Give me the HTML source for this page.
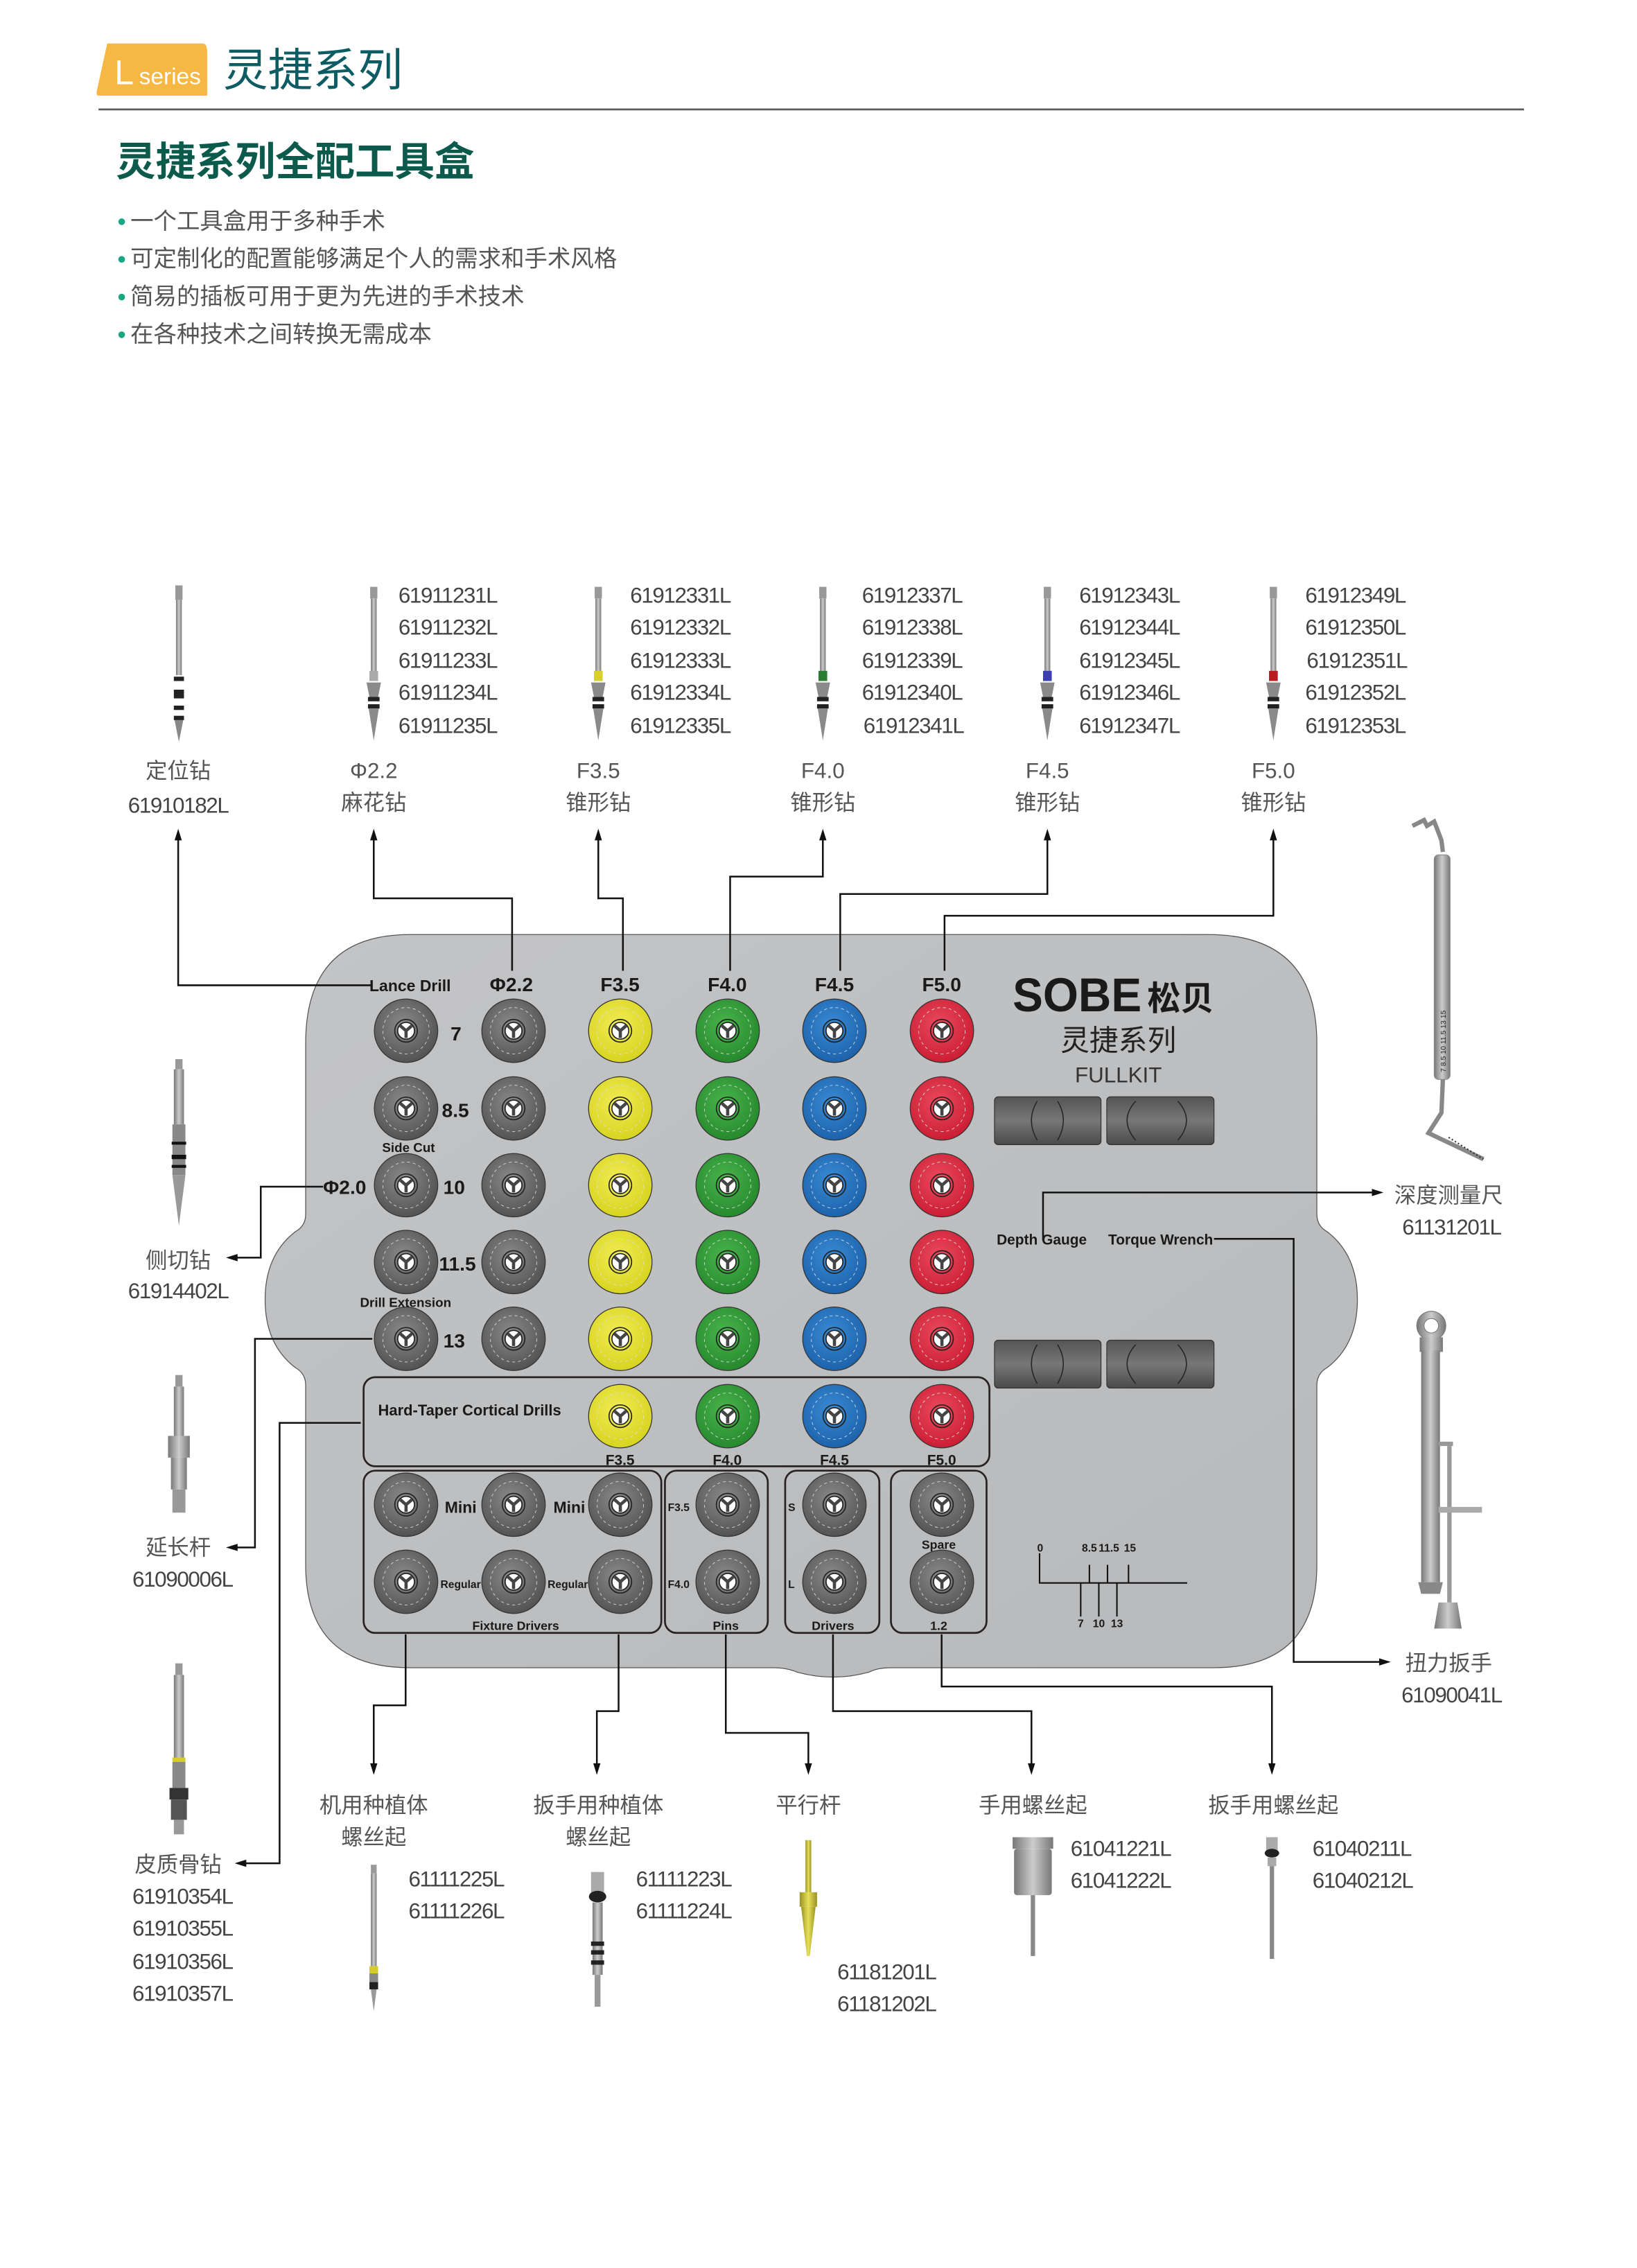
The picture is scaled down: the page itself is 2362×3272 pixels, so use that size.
<!DOCTYPE html>
<html><head><meta charset="utf-8"><style>
html,body{margin:0;padding:0;background:#fff}
svg{display:block}
.cn{font-family:"Liberation Sans","Noto Sans CJK SC",sans-serif}
.code{font-family:"Liberation Sans Narrow","Liberation Sans",sans-serif;font-size:15px;fill:#444;letter-spacing:-0.65px}
.lab{font-family:"Liberation Sans","Noto Sans CJK SC",sans-serif;font-size:15px;fill:#555}
.b{font-family:"Liberation Sans","Noto Sans CJK SC",sans-serif;font-weight:bold;fill:#1a1a1a}
.ln{fill:none;stroke:#111;stroke-width:1.2}
</style></head><body>
<svg width="2362" height="3272" viewBox="0 0 1130 1565.3" xmlns="http://www.w3.org/2000/svg">
<defs>
<radialGradient id="gg" cx="0.45" cy="0.4" r="0.65"><stop offset="0" stop-color="#8a8a8a"/><stop offset="1" stop-color="#4e4e4e"/></radialGradient>
<radialGradient id="gy" cx="0.45" cy="0.4" r="0.65"><stop offset="0" stop-color="#f0ec55"/><stop offset="1" stop-color="#d6d21c"/></radialGradient>
<radialGradient id="gn" cx="0.45" cy="0.4" r="0.65"><stop offset="0" stop-color="#4ab44c"/><stop offset="1" stop-color="#23862b"/></radialGradient>
<radialGradient id="gb" cx="0.45" cy="0.4" r="0.65"><stop offset="0" stop-color="#3a8ad4"/><stop offset="1" stop-color="#1a5fa8"/></radialGradient>
<radialGradient id="gr" cx="0.45" cy="0.4" r="0.65"><stop offset="0" stop-color="#ea4a5c"/><stop offset="1" stop-color="#c81a30"/></radialGradient>
<linearGradient id="bd" x1="0" y1="0" x2="1" y2="1"><stop offset="0" stop-color="#c3c4c6"/><stop offset="1" stop-color="#b7b9bb"/></linearGradient>
<linearGradient id="blk" x1="0" y1="0" x2="0" y2="1"><stop offset="0" stop-color="#555"/><stop offset="0.5" stop-color="#777"/><stop offset="1" stop-color="#4a4a4a"/></linearGradient>
<linearGradient id="met" x1="0" y1="0" x2="1" y2="0"><stop offset="0" stop-color="#777"/><stop offset="0.5" stop-color="#ccc"/><stop offset="1" stop-color="#777"/></linearGradient>
<linearGradient id="gold" x1="0" y1="0" x2="1" y2="0"><stop offset="0" stop-color="#9a9420"/><stop offset="0.5" stop-color="#e6df5a"/><stop offset="1" stop-color="#9a9420"/></linearGradient>
<g id="ctr"><circle r="16" fill="none" stroke="#ddd" stroke-width="0.4" stroke-dasharray="2 2"/><circle r="7.8" fill="none" stroke="#222" stroke-width="0.8"/><circle r="5.8" fill="#fff" stroke="#222" stroke-width="0.8"/><path d="M0,0 L-4,-3.5 M0,0 L4,-3.5 M0,0 L0,5" stroke="#444" stroke-width="2.2"/></g>
<g id="hg"><circle r="21.9" fill="url(#gg)" stroke="#333" stroke-width="0.6"/><use href="#ctr"/></g>
<g id="hy"><circle r="21.9" fill="url(#gy)" stroke="#333" stroke-width="0.6"/><use href="#ctr"/></g>
<g id="hn"><circle r="21.9" fill="url(#gn)" stroke="#333" stroke-width="0.6"/><use href="#ctr"/></g>
<g id="hb"><circle r="21.9" fill="url(#gb)" stroke="#333" stroke-width="0.6"/><use href="#ctr"/></g>
<g id="hr"><circle r="21.9" fill="url(#gr)" stroke="#333" stroke-width="0.6"/><use href="#ctr"/></g>
<g id="drill"><rect x="-2.5" y="0" width="5" height="8" fill="#999"/><rect x="-2" y="8" width="4" height="52" fill="url(#met)"/><rect x="-3" y="58" width="6" height="7" fill="#aaa"/><polygon points="-5,66 5,66 3,76 -3,76" fill="#8a8a8a"/><rect x="-4" y="76" width="8" height="3" fill="#222"/><rect x="-4" y="81" width="8" height="3" fill="#222"/><polygon points="-3.5,84 3.5,84 0,106" fill="#8a8a8a"/></g>
</defs>

<!-- header -->
<path d="M74,30 H140 Q143,30 143,36 V66 H68 Q66,66 67,62 Z" fill="#f6b843"/>
<text x="79" y="58" font-family="Liberation Sans Narrow,Liberation Sans,sans-serif" font-size="24" fill="#fff">L</text>
<text x="96" y="58" font-family="Liberation Sans Narrow,Liberation Sans,sans-serif" font-size="16" fill="#fff">series</text>
<text x="154" y="59" class="cn" font-size="31" fill="#0d5c63">灵捷系列</text>
<line x1="68" y1="75.5" x2="1052" y2="75.5" stroke="#5c5c5c" stroke-width="1.3"/>
<text x="80" y="121" class="cn" font-size="27.5" font-weight="bold" fill="#0b5a4c">灵捷系列全配工具盒</text>
<g class="cn" font-size="16" fill="#555">
<circle cx="84" cy="153" r="2.3" fill="#15a882"/><text x="90" y="158">一个工具盒用于多种手术</text>
<circle cx="84" cy="179" r="2.3" fill="#15a882"/><text x="90" y="184">可定制化的配置能够满足个人的需求和手术风格</text>
<circle cx="84" cy="205" r="2.3" fill="#15a882"/><text x="90" y="210">简易的插板可用于更为先进的手术技术</text>
<circle cx="84" cy="231" r="2.3" fill="#15a882"/><text x="90" y="236">在各种技术之间转换无需成本</text>
</g>

<!-- top drills -->
<g>
<rect x="121" y="404" width="5" height="10" fill="#999"/><rect x="121.5" y="414" width="4" height="52" fill="url(#met)"/>
<rect x="120" y="467" width="7" height="3" fill="#222"/><rect x="120" y="476" width="7" height="6" fill="#222"/><rect x="120" y="487" width="7" height="3" fill="#222"/><rect x="120" y="494" width="7" height="3" fill="#222"/><polygon points="120.5,497 126.5,497 123.5,512" fill="#888"/>
<use href="#drill" x="258" y="405"/>
<use href="#drill" x="413" y="405"/><rect x="410" y="463" width="6" height="7" fill="#d9cf2c"/>
<use href="#drill" x="568" y="405"/><rect x="565" y="463" width="6" height="7" fill="#2a7d30"/>
<use href="#drill" x="723" y="405"/><rect x="720" y="463" width="6" height="7" fill="#3c3fb0"/>
<use href="#drill" x="879" y="405"/><rect x="876" y="463" width="6" height="7" fill="#b81c22"/>
</g>
<g class="code">
<text x="275" y="416">61911231L</text><text x="275" y="438">61911232L</text><text x="275" y="461">61911233L</text><text x="275" y="483">61911234L</text><text x="275" y="506">61911235L</text>
<text x="435" y="416">61912331L</text><text x="435" y="438">61912332L</text><text x="435" y="461">61912333L</text><text x="435" y="483">61912334L</text><text x="435" y="506">61912335L</text>
<text x="595" y="416">61912337L</text><text x="595" y="438">61912338L</text><text x="595" y="461">61912339L</text><text x="595" y="483">61912340L</text><text x="596" y="506">61912341L</text>
<text x="745" y="416">61912343L</text><text x="745" y="438">61912344L</text><text x="745" y="461">61912345L</text><text x="745" y="483">61912346L</text><text x="745" y="506">61912347L</text>
<text x="901" y="416">61912349L</text><text x="901" y="438">61912350L</text><text x="902" y="461">61912351L</text><text x="901" y="483">61912352L</text><text x="901" y="506">61912353L</text>
</g>
<g class="lab" text-anchor="middle">
<text x="123" y="537">定位钻</text><text x="123" y="561" class="code">61910182L</text>
<text x="258" y="537">Φ2.2</text><text x="258" y="559">麻花钻</text>
<text x="413" y="537">F3.5</text><text x="413" y="559">锥形钻</text>
<text x="568" y="537">F4.0</text><text x="568" y="559">锥形钻</text>
<text x="723" y="537">F4.5</text><text x="723" y="559">锥形钻</text>
<text x="879" y="537">F5.0</text><text x="879" y="559">锥形钻</text>
</g>

<!-- board -->
<path d="M283,645 H834 Q909,645 909,720 V838 Q909,846 916,850 Q937,866 937,897 Q937,928 916,944 Q909,948 909,956 V1080 Q909,1151 838,1151 H615 Q606,1151 600,1154 Q575,1161 550,1154 Q543,1151 534,1151 H283 Q211,1151 211,1080 V956 Q211,948 204,944 Q183,928 183,897 Q183,866 204,850 Q211,846 211,838 V720 Q211,645 283,645 Z" fill="url(#bd)" stroke="#555" stroke-width="0.6"/>

<!-- connectors -->
<g class="ln">
<path d="M123,577 V680 H256"/>
<path d="M258,577 V620 H353.5 V670"/>
<path d="M413,577 V620 H430 V670"/>
<path d="M568,577 V605 H504 V670"/>
<path d="M723,577 V617 H580 V670"/>
<path d="M879,577 V632 H652 V670"/>
<path d="M223,819 H180 V868 H162"/>
<path d="M257,924 H176 V1068 H162"/>
<path d="M249,982 H193 V1286 H168"/>
<path d="M720,856 V823 H950"/>
<path d="M838,855 H893 V1147 H955"/>
<path d="M280,1128 V1177 H258 V1220"/>
<path d="M427,1128 V1181 H412 V1220"/>
<path d="M501,1128 V1196 H558 V1220"/>
<path d="M575,1128 V1181 H712 V1220"/>
<path d="M650,1128 V1164 H878 V1220"/>
</g>
<g fill="#111">
<polygon points="123,572 120.5,580 125.5,580"/><polygon points="258,572 255.5,580 260.5,580"/><polygon points="413,572 410.5,580 415.5,580"/><polygon points="568,572 565.5,580 570.5,580"/><polygon points="723,572 720.5,580 725.5,580"/><polygon points="879,572 876.5,580 881.5,580"/>
<polygon points="156,868 164,865.5 164,870.5"/><polygon points="156,1068 164,1065.5 164,1070.5"/><polygon points="162,1286 170,1283.5 170,1288.5"/>
<polygon points="955,823 947,820.5 947,825.5"/><polygon points="960,1147 952,1144.5 952,1149.5"/>
<polygon points="258,1225 255.5,1217 260.5,1217"/><polygon points="412,1225 409.5,1217 414.5,1217"/><polygon points="558,1225 555.5,1217 560.5,1217"/><polygon points="712,1225 709.5,1217 714.5,1217"/><polygon points="878,1225 875.5,1217 880.5,1217"/>
</g>

<!-- board holes -->
<g>
<use href="#hg" x="280.3" y="711.4"/><use href="#hg" x="354.5" y="711.4"/><use href="#hy" x="428.2" y="711.4"/><use href="#hn" x="502.3" y="711.4"/><use href="#hb" x="576" y="711.4"/><use href="#hr" x="650.2" y="711.4"/>
<use href="#hg" x="280.3" y="765"/><use href="#hg" x="354.5" y="765"/><use href="#hy" x="428.2" y="765"/><use href="#hn" x="502.3" y="765"/><use href="#hb" x="576" y="765"/><use href="#hr" x="650.2" y="765"/>
<use href="#hg" x="280.3" y="818"/><use href="#hg" x="354.5" y="818"/><use href="#hy" x="428.2" y="818"/><use href="#hn" x="502.3" y="818"/><use href="#hb" x="576" y="818"/><use href="#hr" x="650.2" y="818"/>
<use href="#hg" x="280.3" y="871"/><use href="#hg" x="354.5" y="871"/><use href="#hy" x="428.2" y="871"/><use href="#hn" x="502.3" y="871"/><use href="#hb" x="576" y="871"/><use href="#hr" x="650.2" y="871"/>
<use href="#hg" x="280.3" y="924"/><use href="#hg" x="354.5" y="924"/><use href="#hy" x="428.2" y="924"/><use href="#hn" x="502.3" y="924"/><use href="#hb" x="576" y="924"/><use href="#hr" x="650.2" y="924"/>
<use href="#hy" x="428.2" y="977.4"/><use href="#hn" x="502.3" y="977.4"/><use href="#hb" x="576" y="977.4"/><use href="#hr" x="650.2" y="977.4"/>
<use href="#hg" x="280.3" y="1038.5"/><use href="#hg" x="354.5" y="1038.5"/><use href="#hg" x="428.2" y="1038.5"/><use href="#hg" x="502.3" y="1038.5"/><use href="#hg" x="576" y="1038.5"/><use href="#hg" x="650.2" y="1038.5"/>
<use href="#hg" x="280.3" y="1091.7"/><use href="#hg" x="354.5" y="1091.7"/><use href="#hg" x="428.2" y="1091.7"/><use href="#hg" x="502.3" y="1091.7"/><use href="#hg" x="576" y="1091.7"/><use href="#hg" x="650.2" y="1091.7"/>
</g>
<g fill="none" stroke="#2a2222" stroke-width="1.3">
<rect x="251" y="950.5" width="432" height="61.5" rx="8"/>
<rect x="251" y="1015" width="205.5" height="112" rx="8"/>
<rect x="459" y="1015" width="71" height="112" rx="8"/>
<rect x="542" y="1015" width="65" height="112" rx="8"/>
<rect x="615" y="1015" width="66" height="112" rx="8"/>
</g>
<g class="b">
<text x="255" y="684" font-size="11">Lance Drill</text>
<g font-size="13.5" text-anchor="middle"><text x="353" y="684">Φ2.2</text><text x="428" y="684">F3.5</text><text x="502" y="684">F4.0</text><text x="576" y="684">F4.5</text><text x="650" y="684">F5.0</text></g>
<g font-size="13.5"><text x="311" y="718">7</text><text x="305" y="771">8.5</text><text x="306" y="824">10</text><text x="303" y="877">11.5</text><text x="306" y="930">13</text><text x="223" y="824">Φ2.0</text></g>
<text x="282" y="795" font-size="9" text-anchor="middle">Side Cut</text>
<text x="280" y="902" font-size="9" text-anchor="middle">Drill Extension</text>
<text x="261" y="977" font-size="10.5">Hard-Taper Cortical Drills</text>
<g font-size="10" text-anchor="middle"><text x="428" y="1011">F3.5</text><text x="502" y="1011">F4.0</text><text x="576" y="1011">F4.5</text><text x="650" y="1011">F5.0</text></g>
<g font-size="11"><text x="307" y="1044">Mini</text><text x="382" y="1044">Mini</text></g>
<g font-size="7.5"><text x="304" y="1096">Regular</text><text x="378" y="1096">Regular</text><text x="461" y="1043">F3.5</text><text x="461" y="1096">F4.0</text><text x="544" y="1043">S</text><text x="544" y="1096">L</text></g>
<g font-size="8.5" text-anchor="middle"><text x="356" y="1125">Fixture  Drivers</text><text x="501" y="1125">Pins</text><text x="575" y="1125">Drivers</text><text x="648" y="1069">Spare</text><text x="648" y="1125">1.2</text></g>
<text x="688" y="859" font-size="10">Depth  Gauge</text><text x="765" y="859" font-size="10">Torque  Wrench</text>
<text x="699" y="698" font-size="33" font-weight="900" textLength="89" lengthAdjust="spacingAndGlyphs">SOBE</text>
<text x="792" y="697" font-size="23" class="cn" font-weight="bold" fill="#1a1a1a">松贝</text>
</g>
<text x="772" y="725" class="cn" font-size="20" fill="#222" text-anchor="middle">灵捷系列</text>
<text x="772" y="747" font-family="Liberation Sans,sans-serif" font-size="15" fill="#333" text-anchor="middle">FULLKIT</text>
<!-- gauge blocks -->
<g stroke="#333" stroke-width="0.6">
<rect x="686.5" y="757" width="73.5" height="33" rx="2.5" fill="url(#blk)"/><rect x="764" y="757" width="74" height="33" rx="2.5" fill="url(#blk)"/>
<rect x="686.5" y="925" width="73.5" height="33" rx="2.5" fill="url(#blk)"/><rect x="764" y="925" width="74" height="33" rx="2.5" fill="url(#blk)"/>
</g>
<g fill="none" stroke="#222" stroke-width="0.7">
<path d="M716,760 Q708,773 716,787 M730,760 Q738,773 730,787 M784,760 Q772,773 784,787 M813,760 Q825,773 813,787"/>
<path d="M716,928 Q708,941 716,955 M730,928 Q738,941 730,955 M784,928 Q772,941 784,955 M813,928 Q825,941 813,955"/>
</g>
<!-- scale -->
<g stroke="#111" stroke-width="1" fill="none"><path d="M717.6,1072 V1092.5 H819.5 M752,1080 V1092.5 M764.5,1080 V1092.5 M779,1080 V1092.5 M746,1092.5 V1115.7 M758.5,1092.5 V1115.7 M771,1092.5 V1115.7"/></g>
<g class="b" font-size="7.5" text-anchor="middle"><text x="718" y="1071">0</text><text x="752" y="1071">8.5</text><text x="765.5" y="1071">11.5</text><text x="780" y="1071">15</text><text x="746" y="1123">7</text><text x="758.5" y="1123">10</text><text x="771" y="1123">13</text></g>

<!-- left side instruments -->
<g>
<rect x="121" y="731" width="5" height="7" fill="#999"/><rect x="120" y="738" width="7" height="38" fill="url(#met)"/><rect x="119" y="776" width="9" height="35" fill="#888"/><rect x="118.5" y="788" width="10" height="2" fill="#111"/><rect x="118.5" y="797" width="10" height="3" fill="#111"/><rect x="118.5" y="804" width="10" height="2" fill="#111"/><polygon points="119,811 128,811 123.5,846" fill="#999"/>
<rect x="121" y="949" width="5" height="8" fill="#999"/><rect x="120" y="957" width="7" height="34" fill="url(#met)"/><rect x="116" y="991" width="15" height="15" fill="url(#met)"/><rect x="118" y="1006" width="11" height="22" fill="url(#met)"/><rect x="119" y="1028" width="9" height="16" fill="#999"/>
<rect x="121" y="1148" width="5" height="8" fill="#999"/><rect x="120" y="1156" width="7" height="58" fill="url(#met)"/><rect x="119" y="1213" width="9" height="3" fill="#d6cc2c"/><rect x="119" y="1216" width="9" height="18" fill="#888"/><rect x="117" y="1234" width="13" height="8" fill="#333"/><rect x="118" y="1242" width="11" height="14" fill="#555"/><rect x="120" y="1256" width="7" height="10" fill="#999"/>
</g>
<g class="lab" text-anchor="middle">
<text x="123" y="875">侧切钻</text><text x="123" y="896" class="code">61914402L</text>
<text x="123" y="1073">延长杆</text><text x="126" y="1095" class="code">61090006L</text>
<text x="123" y="1292">皮质骨钻</text>
<text x="126" y="1314" class="code">61910354L</text><text x="126" y="1336" class="code">61910355L</text><text x="126" y="1359" class="code">61910356L</text><text x="126" y="1381" class="code">61910357L</text>
</g>

<!-- right side instruments -->
<g>
<path d="M975,570 L983,566 L985,570 L990,567 L992,572 L995,580 L996,588" fill="none" stroke="#888" stroke-width="3"/>
<rect x="990" y="590" width="11" height="155" rx="3" fill="url(#met)" stroke="#888" stroke-width="0.5"/>
<path d="M996,745 L995,768 L986,782 L1024,800" fill="none" stroke="#888" stroke-width="3"/>
<path d="M1000,785 L1024,800" fill="none" stroke="#333" stroke-width="1" stroke-dasharray="1 1.5"/>
<text x="0" y="0" transform="translate(998,740) rotate(-90)" font-family="Liberation Sans,sans-serif" font-size="5" fill="#222">7 8.5 10 11.5 13 15</text>
<circle cx="988" cy="915" r="10" fill="url(#met)" stroke="#777" stroke-width="0.6"/><circle cx="988" cy="915" r="5" fill="#fff" stroke="#777" stroke-width="0.5"/>
<rect x="980" y="923" width="16" height="10" fill="url(#met)"/>
<rect x="981" y="932" width="13" height="160" fill="url(#met)"/>
<path d="M979,1092 L996,1092 L994,1100 L981,1100 Z" fill="#888"/>
<rect x="993" y="995" width="10" height="3" fill="#999"/><rect x="999" y="998" width="3" height="108" fill="#999"/>
<rect x="993" y="1040" width="30" height="4" fill="#aaa"/>
<path d="M993,1106 L1006,1106 L1009,1124 L990,1124 Z" fill="url(#met)"/>
</g>
<g class="lab" text-anchor="middle">
<text x="1000" y="830">深度测量尺</text><text x="1002" y="852" class="code">61131201L</text>
<text x="1000" y="1153">扭力扳手</text><text x="1002" y="1175" class="code">61090041L</text>
</g>

<!-- bottom labels & instruments -->
<g class="lab" text-anchor="middle">
<text x="258" y="1251">机用种植体</text><text x="258" y="1273">螺丝起</text>
<text x="413" y="1251">扳手用种植体</text><text x="413" y="1273">螺丝起</text>
<text x="558" y="1251">平行杆</text>
<text x="713" y="1251">手用螺丝起</text>
<text x="879" y="1251">扳手用螺丝起</text>
</g>
<g class="code">
<text x="282" y="1302">61111225L</text><text x="282" y="1324">61111226L</text>
<text x="439" y="1302">61111223L</text><text x="439" y="1324">61111224L</text>
<text x="578" y="1366">61181201L</text><text x="578" y="1388">61181202L</text>
<text x="739" y="1281">61041221L</text><text x="739" y="1303">61041222L</text>
<text x="906" y="1281">61040211L</text><text x="906" y="1303">61040212L</text>
</g>
<g>
<rect x="256" y="1287" width="4" height="6" fill="#999"/><rect x="256" y="1293" width="4" height="64" fill="url(#met)"/><rect x="255" y="1357" width="6" height="5" fill="#d6cc2c"/><rect x="255" y="1362" width="6" height="6" fill="#888"/><rect x="255" y="1368" width="6" height="5" fill="#222"/><polygon points="256,1373 260,1373 258,1388" fill="#999"/>
<rect x="408" y="1292" width="9" height="15" fill="#aaa"/><ellipse cx="412.5" cy="1309" rx="6" ry="4" fill="#222"/><rect x="409" y="1313" width="7" height="50" fill="url(#met)"/><rect x="408" y="1340" width="9" height="3" fill="#222"/><rect x="408" y="1346" width="9" height="3" fill="#222"/><rect x="408" y="1353" width="9" height="3" fill="#222"/><rect x="410.5" y="1363" width="4" height="22" fill="#999"/>
<rect x="556" y="1270" width="4" height="36" fill="url(#gold)"/><rect x="552" y="1306" width="12" height="10" fill="url(#gold)"/><polygon points="553,1316 563,1316 559,1350 557,1350" fill="url(#gold)"/>
<rect x="699" y="1268" width="28" height="8" fill="url(#met)"/><rect x="700" y="1276" width="26" height="32" rx="2" fill="url(#met)"/><rect x="711.5" y="1308" width="3" height="42" fill="#888"/>
<rect x="874" y="1268" width="8" height="10" fill="#aaa"/><ellipse cx="878" cy="1279" rx="5" ry="3" fill="#222"/><rect x="875" y="1282" width="6" height="6" fill="#aaa"/><rect x="876.5" y="1288" width="3" height="64" fill="#888"/>
</g>
</svg>
</body></html>
